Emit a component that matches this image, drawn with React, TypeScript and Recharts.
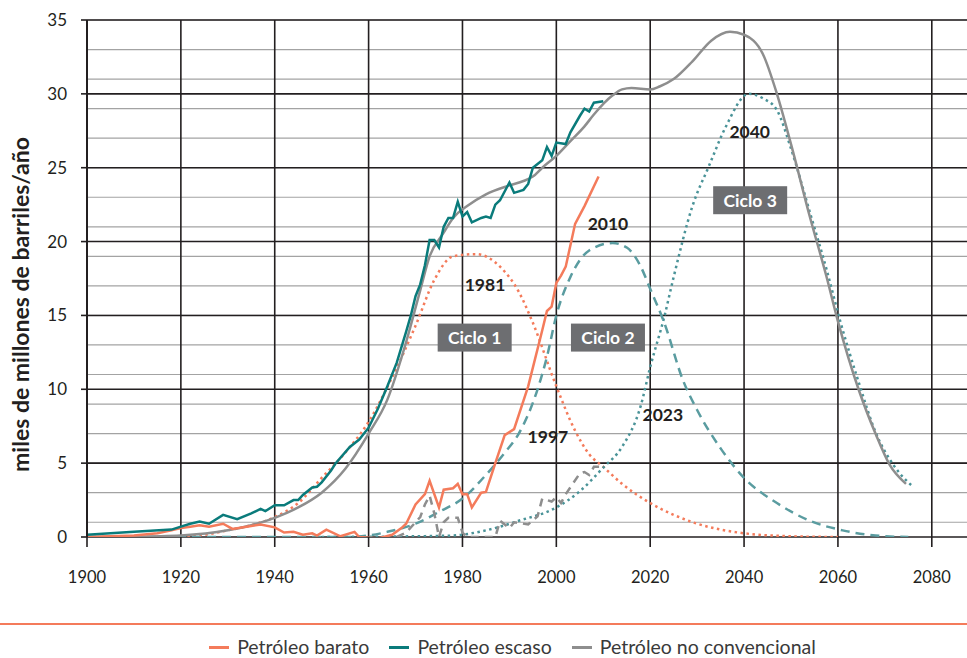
import React from 'react';
import {
  LineChart,
  Line,
  XAxis,
  YAxis,
  CartesianGrid,
  ReferenceDot,
} from 'recharts';

// x axis ticks (years) and y axis ticks (miles de millones de barriles/año)
const yearTicks = [1900, 1920, 1940, 1960, 1980, 2000, 2020, 2040, 2060, 2080];
const valueTicks = [0, 5, 10, 15, 20, 25, 30, 35];
const minorValues = Array.from({ length: 36 }, (_, i) => i);

// Petróleo barato (orange, solid)
const baratoYears = [1900, 1905, 1910, 1915, 1918, 1920, 1922, 1924, 1926, 1929, 1931, 1934, 1937, 1940, 1942, 1944, 1946, 1948, 1949, 1951, 1954, 1957, 1958, 1962, 1965, 1967, 1968, 1970, 1972, 1973, 1975, 1976, 1978, 1979, 1980, 1981, 1982, 1984, 1985, 1987, 1989, 1991, 1994, 1997, 1998, 1999, 2000, 2001, 2002, 2004, 2006, 2009];
const baratoValues = [0, 0.05, 0.1, 0.25, 0.45, 0.6, 0.7, 0.8, 0.7, 0.9, 0.55, 0.7, 0.85, 0.65, 0.3, 0.35, 0.15, 0.25, 0.1, 0.5, 0.05, 0.35, 0, -0.1, 0.15, 0.6, 0.9, 2.2, 2.9, 3.8, 2.0, 3.2, 3.3, 3.6, 2.9, 2.9, 2.0, 3.0, 3.05, 5.0, 6.9, 7.3, 10.2, 14.0, 15.3, 15.6, 17.2, 17.7, 18.3, 21.2, 22.4, 24.4];

// Petróleo escaso (teal, solid)
const escasoYears = [1900, 1910, 1918, 1920, 1922, 1924, 1926, 1929, 1932, 1935, 1937, 1938, 1940, 1942, 1944, 1945, 1946, 1948, 1949, 1950, 1952, 1953, 1956, 1958, 1960, 1962, 1964, 1966, 1968, 1969, 1970, 1971, 1972, 1973, 1974, 1975, 1976, 1977, 1978, 1979, 1980, 1981, 1982, 1984, 1985, 1986, 1987, 1988, 1990, 1991, 1993, 1994, 1995, 1997, 1998, 1999, 2000, 2002, 2003, 2005, 2006, 2007, 2008, 2010];
const escasoValues = [0.15, 0.35, 0.5, 0.7, 0.9, 1.05, 0.9, 1.5, 1.2, 1.6, 1.9, 1.75, 2.15, 2.15, 2.5, 2.5, 2.85, 3.35, 3.4, 3.7, 4.5, 5.0, 6.1, 6.6, 7.4, 8.7, 10.2, 11.8, 13.9, 15.0, 16.3, 17.1, 18.4, 20.1, 20.1, 19.6, 21.0, 21.6, 21.6, 22.7, 21.7, 22.0, 21.3, 21.6, 21.7, 21.6, 22.5, 22.8, 24.0, 23.3, 23.5, 23.9, 25.0, 25.5, 26.4, 25.8, 26.7, 26.6, 27.4, 28.5, 29.0, 28.8, 29.4, 29.5];

// Petróleo no convencional (gray, solid)
const noConvYears = [1900, 1910, 1920, 1930, 1935, 1940, 1945, 1950, 1955, 1960, 1964, 1968, 1971, 1973, 1976, 1978, 1981, 1985, 1990, 1993, 1995, 1997, 2000, 2003, 2006, 2008, 2012, 2014, 2016, 2020, 2022, 2025, 2029, 2033, 2037, 2040, 2044, 2047, 2050, 2054, 2057.5, 2060, 2064.5, 2068, 2071, 2074.5];
const noConvValues = [0, 0.02, 0.1, 0.45, 0.8, 1.3, 2.0, 3.0, 4.6, 7.0, 9.3, 13.2, 16.7, 19.0, 20.6, 21.6, 22.4, 23.2, 23.8, 24.1, 24.4, 25.0, 25.8, 26.8, 27.8, 28.6, 29.9, 30.3, 30.4, 30.3, 30.5, 31.0, 32.2, 33.6, 34.2, 34.0, 32.7, 30.0, 26.6, 21.7, 17.7, 14.6, 9.9, 7.0, 4.9, 3.6];

// gray dashed (small production since 1966)
const grisYears = [1966, 1968, 1971, 1972, 1973, 1974, 1975, 1976, 1977, 1979, 1980, 1981, 1987, 1988, 1990, 1991, 1994, 1996, 1997, 1999, 2000, 2001, 2002, 2005, 2006, 2007, 2008, 2010];
const grisValues = [0, 0.3, 1.35, 2.2, 2.8, 1.6, 0, 1.0, 1.3, 1.3, 0.3, 0, 0, 1.1, 0.6, 1.0, 0.85, 1.4, 2.6, 2.4, 2.7, 2.3, 2.9, 4.3, 4.4, 4.2, 4.75, 4.75];

// Ciclo 1 (orange dotted)
const ciclo1Years = [1915, 1920, 1925, 1930, 1935, 1940, 1945, 1950, 1955, 1960, 1965, 1970, 1974, 1978, 1983, 1988, 1992, 1995, 2000, 2004, 2007, 2010, 2014, 2020, 2025, 2030, 2035, 2040, 2050, 2060];
const ciclo1Values = [0, 0.05, 0.15, 0.45, 0.8, 1.35, 2.3, 4.0, 5.7, 7.8, 10.8, 14.3, 17.4, 19.0, 19.15, 18.3, 16.6, 14.5, 10.2, 7.2, 5.6, 4.75, 3.6, 2.3, 1.5, 0.9, 0.5, 0.25, 0.05, 0];

// Ciclo 2 (teal dashed)
const ciclo2Years = [1900, 1955, 1960, 1964, 1970, 1975, 1980, 1985, 1989, 1992, 1996, 1998, 2000, 2003, 2007, 2012, 2015, 2018, 2020, 2023, 2027, 2030, 2035, 2040, 2047, 2054, 2061, 2068, 2075];
const ciclo2Values = [0, 0, 0.1, 0.35, 0.9, 1.7, 2.6, 4.2, 5.7, 7.0, 10.0, 12.2, 15.0, 17.6, 19.4, 19.9, 19.6, 18.3, 16.8, 14.5, 10.6, 8.6, 6.0, 4.0, 2.3, 1.1, 0.45, 0.1, 0];

// Ciclo 3 (teal dotted)
const ciclo3Years = [1950, 1970, 1978, 1985, 1992, 2000, 2005, 2010, 2014, 2018, 2020, 2023, 2025, 2029, 2032.5, 2036, 2041, 2044, 2047, 2050, 2054, 2057.5, 2060.5, 2064.5, 2068, 2072, 2076];
const ciclo3Values = [0, 0.05, 0.1, 0.45, 1.1, 2.0, 3.1, 4.7, 6.1, 8.9, 11.5, 14.9, 17.6, 22.4, 25.1, 27.7, 30.0, 29.7, 28.9, 26.3, 22.0, 18.2, 14.6, 10.4, 7.1, 4.8, 3.4];

// year labels and cycle boxes
const yearLabels = [
  { text: '1981', x: 1984.8, y: 17.1 },
  { text: '1997', x: 1998.2, y: 6.8 },
  { text: '2010', x: 2011, y: 21.2 },
  { text: '2023', x: 2022.7, y: 8.3 },
  { text: '2040', x: 2041.2, y: 27.4 },
];
const cycleLabels = [
  { text: 'Ciclo 1', x: 1982.6, y: 13.5 },
  { text: 'Ciclo 2', x: 2011, y: 13.5 },
  { text: 'Ciclo 3', x: 2041.3, y: 22.8 },
];

const ORANGE = '#f47b5b';
const TEAL = '#0a7b7b';
const GRAY = '#8e8e8e';
const TEAL_LIGHT = '#5a9ca0';
const TEAL_DOT = '#4a9398';
const DARK = '#231f20';
const FONT = 'Lato, "Open Sans", sans-serif';

const toPoints = (xs: number[], ys: number[]) => xs.map((x, i) => ({ x, y: ys[i] }));

const YearText = (text: string) => (props: any) => {
  const vb = props.viewBox || {};
  const cx = (vb.x || 0) + (vb.width || 0) / 2;
  const cy = (vb.y || 0) + (vb.height || 0) / 2;
  return (
    <text x={cx} y={cy} dy="0.35em" textAnchor="middle" fontFamily={FONT} fontSize={17.5} fontWeight={700} fill={DARK}>
      {text}
    </text>
  );
};

const CycleBox = (text: string) => (props: any) => {
  const vb = props.viewBox || {};
  const cx = (vb.x || 0) + (vb.width || 0) / 2;
  const cy = (vb.y || 0) + (vb.height || 0) / 2;
  return (
    <g>
      <rect x={cx - 37} y={cy - 14} width={74} height={28} fill="#6d6e71" />
      <text x={cx} y={cy} dy="0.36em" textAnchor="middle" fontFamily={FONT} fontSize={17.5} fontWeight={700} fill="#fff">
        {text}
      </text>
    </g>
  );
};

const AxisTitle = (props: any) => {
  const vb = props.viewBox || {};
  const cy = (vb.y || 0) + (vb.height || 0) / 2 + 26;
  return (
    <text
      x={21}
      y={cy}
      transform={`rotate(-90, 21, ${cy})`}
      dy="0.35em"
      textAnchor="middle"
      fontFamily={FONT}
      fontSize={23}
      fontWeight={700}
      fill={DARK}
    >
      miles de millones de barriles/año
    </text>
  );
};

const legendItems = [
  { name: 'Petróleo barato', color: ORANGE },
  { name: 'Petróleo escaso', color: TEAL },
  { name: 'Petróleo no convencional', color: GRAY },
];

export default function App() {
  return (
    <div style={{ position: 'absolute', left: 0, top: 0, width: 967, height: 658, background: '#fff', fontFamily: FONT }}>
      <LineChart width={967} height={600} margin={{ top: 20, right: 0, bottom: 0, left: 0 }}>
        <CartesianGrid horizontalValues={minorValues} vertical={false} stroke="#a3a3a3" strokeWidth={1.2} />
        <CartesianGrid horizontalValues={valueTicks} verticalValues={yearTicks} stroke={DARK} strokeWidth={1.6} />
        <XAxis
          type="number"
          dataKey="x"
          domain={[1900, 2087.5]}
          ticks={yearTicks}
          allowDataOverflow
          axisLine={false}
          tickLine={{ stroke: DARK, strokeWidth: 1.6 }}
          tickSize={10}
          tickMargin={24}
          height={63}
          tick={{ fill: DARK, fontSize: 16.5, fontFamily: FONT }}
        />
        <YAxis
          type="number"
          domain={[0, 35]}
          ticks={valueTicks}
          allowDataOverflow
          width={87}
          axisLine={{ stroke: DARK, strokeWidth: 2 }}
          tickLine={{ stroke: DARK, strokeWidth: 1.6 }}
          tickSize={6}
          tickMargin={14}
          tick={{ fill: DARK, fontSize: 17, fontFamily: FONT }}
          label={<AxisTitle />}
        />
        <Line data={toPoints(ciclo1Years, ciclo1Values)} dataKey="y" type="monotone" stroke={ORANGE} strokeWidth={2.5} strokeDasharray="2.5 3.5" dot={false} isAnimationActive={false} />
        <Line data={toPoints(ciclo2Years, ciclo2Values)} dataKey="y" type="monotone" stroke={TEAL_LIGHT} strokeWidth={2.5} strokeDasharray="9 6" dot={false} isAnimationActive={false} />
        <Line data={toPoints(ciclo3Years, ciclo3Values)} dataKey="y" type="monotone" stroke={TEAL_DOT} strokeWidth={2.5} strokeDasharray="2.5 3.5" dot={false} isAnimationActive={false} />
        <Line data={toPoints(grisYears, grisValues)} dataKey="y" type="linear" stroke={GRAY} strokeWidth={2.5} strokeDasharray="8 6" dot={false} isAnimationActive={false} />
        <Line data={toPoints(noConvYears, noConvValues)} dataKey="y" type="monotone" stroke={GRAY} strokeWidth={2.5} dot={false} isAnimationActive={false} />
        <Line data={toPoints(baratoYears, baratoValues)} dataKey="y" type="linear" stroke={ORANGE} strokeWidth={2.5} dot={false} isAnimationActive={false} />
        <Line data={toPoints(escasoYears, escasoValues)} dataKey="y" type="linear" stroke={TEAL} strokeWidth={2.5} dot={false} isAnimationActive={false} />
        {yearLabels.map((l) => (
          <ReferenceDot key={l.text} x={l.x} y={l.y} r={0} fill="none" stroke="none" label={YearText(l.text)} />
        ))}
        {cycleLabels.map((l) => (
          <ReferenceDot key={l.text} x={l.x} y={l.y} r={0} fill="none" stroke="none" label={CycleBox(l.text)} />
        ))}
      </LineChart>
      <div style={{ position: 'absolute', left: 0, top: 623, width: 967, height: 2, background: ORANGE }} />
      <div
        style={{
          position: 'absolute',
          left: 0,
          top: 636,
          width: 967,
          height: 22,
          display: 'flex',
          justifyContent: 'center',
          paddingLeft: 78,
          boxSizing: 'border-box',
          fontSize: 19.5,
          color: '#3a3a3a',
          lineHeight: '22px',
          whiteSpace: 'nowrap',
        }}
      >
        {legendItems.map((it) => (
          <div key={it.name} style={{ display: 'flex', alignItems: 'center', marginRight: 20, flexShrink: 0 }}>
            <span style={{ display: 'inline-block', width: 20, height: 3, background: it.color, marginRight: 8 }} />
            <span>{it.name}</span>
          </div>
        ))}
      </div>
    </div>
  );
}
